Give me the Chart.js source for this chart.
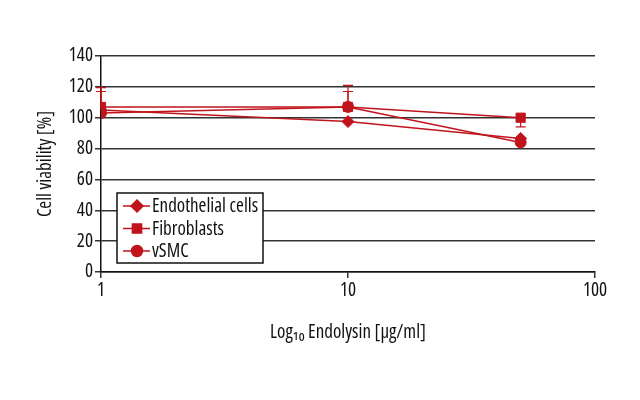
<!DOCTYPE html>
<html>
<head>
<meta charset="utf-8">
<script src="https://cdn.jsdelivr.net/npm/chart.js@4.4.0/dist/chart.umd.min.js"></script>
<style>
  html, body { margin: 0; padding: 0; background: #fff; }
  #wrap { width: 640px; height: 400px; }
</style>
</head>
<body>
<div id="wrap"><canvas id="viability"></canvas></div>
<script>
// concentrations (µg/ml)
var doses = [1, 10, 50];
var xTicks = [1, 10, 100];
var seriesNames = ['Endothelial cells', 'Fibroblasts', 'vSMC'];

var endothelial = [105, 97.5, 86.5];
var fibroblasts = [107, 107, 100];
var vsmc = [103, 107, 84];

// error bars (upper / lower)
var endothelialErrUp = [12, 0, 0];
var endothelialErrDown = [0, 0, 0];
var fibroblastsErrUp = [12.5, 14, 0];
var fibroblastsErrDown = [0, 0, 6];
var vsmcErrUp = [0, 10, 0];
var vsmcErrDown = [0, 0, 0];

var red = '#c0141c';
var family = "'Open Sans', Roboto, sans-serif";
// weight string also carries font-stretch into the canvas font shorthand
var tickFont = {family: family, size: 19, weight: 'normal condensed'};

function pts(vals) {
	return doses.map(function (d, i) { return {x: d, y: vals[i]}; });
}

var errs = [
	{up: endothelialErrUp, down: endothelialErrDown},
	{up: fibroblastsErrUp, down: fibroblastsErrDown},
	{up: vsmcErrUp, down: vsmcErrDown}
];

var errorBars = {
	id: 'errorBars',
	afterDatasetsDraw: function (chart) {
		var ctx = chart.ctx;
		var ys = chart.scales.y;
		ctx.save();
		ctx.strokeStyle = red;
		ctx.lineWidth = 1.2;
		chart.data.datasets.forEach(function (ds, di) {
			var meta = chart.getDatasetMeta(di);
			meta.data.forEach(function (pt, i) {
				var v = ds.data[i].y;
				[['up', 1], ['down', -1]].forEach(function (e) {
					var d = errs[di][e[0]][i];
					if (!d) return;
					var y2 = ys.getPixelForValue(v + e[1] * d);
					ctx.beginPath();
					ctx.moveTo(pt.x, pt.y);
					ctx.lineTo(pt.x, y2);
					ctx.moveTo(pt.x - 5, y2);
					ctx.lineTo(pt.x + 5, y2);
					ctx.stroke();
				});
			});
		});
		ctx.restore();
	}
};

// boxed legend inside the plot, lower left
var boxLegend = {
	id: 'boxLegend',
	afterDraw: function (chart) {
		var ctx = chart.ctx;
		var bx = 117, by = 193, bw = 146, bh = 70;
		ctx.save();
		ctx.fillStyle = '#fff';
		ctx.fillRect(bx, by, bw, bh);
		ctx.strokeStyle = '#111';
		ctx.lineWidth = 1.5;
		ctx.strokeRect(bx, by, bw, bh);
		ctx.textBaseline = 'middle';
		chart.data.datasets.forEach(function (ds, i) {
			var cy = by + 13 + i * 22.5;
			ctx.strokeStyle = red;
			ctx.lineWidth = 1.5;
			ctx.beginPath();
			ctx.moveTo(bx + 6, cy);
			ctx.lineTo(bx + 33, cy);
			ctx.stroke();
			ctx.fillStyle = red;
			Chart.helpers.drawPoint(ctx, {
				pointStyle: ds.pointStyle, radius: ds.pointRadius, borderWidth: 1, rotation: 0
			}, bx + 20, cy);
			ctx.font = 'normal condensed 19px ' + family;
			ctx.fillStyle = '#111';
			ctx.fillText(ds.label, bx + 35, cy + 1);
		});
		ctx.restore();
	}
};

function makeSet(label, vals, style, r) {
	return {
		label: label,
		data: pts(vals),
		borderColor: red,
		backgroundColor: red,
		borderWidth: 1.5,
		pointStyle: style,
		pointRadius: r,
		pointBorderWidth: 1,
		pointBackgroundColor: red,
		pointBorderColor: red,
		tension: 0
	};
}

var chart = new Chart(document.getElementById('viability').getContext('2d'), {
	type: 'line',
	data: {
		datasets: [
			makeSet(seriesNames[0], endothelial, 'rectRot', 6),
			makeSet(seriesNames[1], fibroblasts, 'rect', 6.5),
			makeSet(seriesNames[2], vsmc, 'circle', 5.5)
		]
	},
	plugins: [errorBars, boxLegend],
	options: {
		responsive: true,
		maintainAspectRatio: false,
		animation: false,
		layout: {padding: {left: 28, right: 45, top: 56, bottom: 0}},
		plugins: {legend: {display: false}, tooltip: {enabled: false}},
		scales: {
			x: {
				type: 'logarithmic',
				min: 1,
				max: 100,
				afterBuildTicks: function (scale) {
					scale.ticks = xTicks.map(function (v) { return {value: v}; });
				},
				afterFit: function (scale) { scale.height = 128; },
				ticks: {
					color: '#111',
					font: tickFont,
					padding: 1,
					maxRotation: 0,
					callback: function (v) { return String(v); }
				},
				grid: {drawOnChartArea: false, drawTicks: true, tickLength: 6, color: '#333', lineWidth: 1.5},
				border: {color: '#111', width: 1.5},
				title: {
					display: true,
					text: 'Log\u2081\u2080 Endolysin [\u00b5g/ml]',
					color: '#111',
					font: tickFont,
					padding: {top: 0, bottom: 56}
				}
			},
			y: {
				min: 0,
				max: 140,
				afterFit: function (scale) { scale.width = 73; },
				ticks: {
					stepSize: 20,
					color: '#111',
					font: tickFont,
					padding: 2
				},
				grid: {color: '#333', lineWidth: 1.5, tickLength: 6},
				border: {color: '#111', width: 1.5},
				title: {
					display: true,
					text: 'Cell viability [%]',
					color: '#111',
					font: tickFont,
					padding: {top: 6, bottom: 0}
				}
			}
		}
	}
});
</script>
</body>
</html>
